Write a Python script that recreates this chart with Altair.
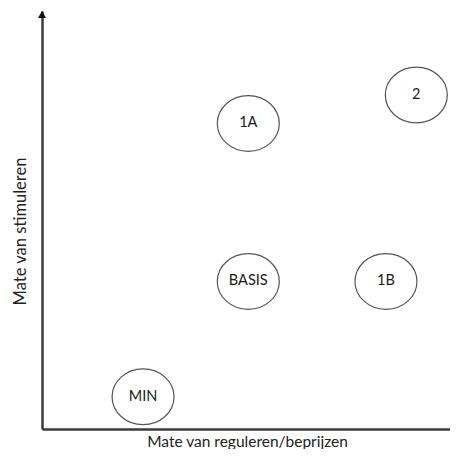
import altair as alt
import pandas as pd

# Options (ellipses) placed on the two dimensions, 0-100 along each axis
labels = ["MIN", "BASIS", "1A", "1B", "2"]
reguleren = [24.3, 49.6, 49.6, 82.7, 90.0]
stimuleren = [7.7, 35.3, 73.1, 35.3, 79.9]

x_title = "Mate van reguleren/beprijzen"
y_title = "Mate van stimuleren"

df = pd.DataFrame({"label": labels, "reg": reguleren, "stim": stimuleren})
arrow_df = pd.DataFrame({"reg": [0], "stim": [100]})

FONT = "Lato"
# plot area reaches to 98 on the x scale (the axis runs to the page edge)
xs = alt.Scale(domain=[0, 98.1], nice=False, zero=False)
ys = alt.Scale(domain=[0, 100], nice=False, zero=False)

x_axis = alt.Axis(
    title=x_title, domainWidth=2.5, domainColor="#3b3b3b", ticks=False,
    labels=False, grid=False, titleFont=FONT, titleFontSize=15.5,
    titleFontWeight="normal", titleColor="#222222", titlePadding=5, titleX=205,
)
y_axis = alt.Axis(
    title=y_title, domainWidth=2.5, domainColor="#3b3b3b", ticks=False,
    labels=False, grid=False, titleFont=FONT, titleFontSize=16.5,
    titleFontWeight="normal", titleColor="#222222", titlePadding=14, titleY=220,
)

ellipse_path = "M -1 0 A 1 0.9 0 1 1 1 0 A 1 0.9 0 1 1 -1 0 Z"
arrow_path = "M 0 0 L 1 1.75 L -1 1.75 Z"

base = alt.Chart(df).encode(
    x=alt.X("reg:Q", scale=xs, axis=x_axis),
    y=alt.Y("stim:Q", scale=ys, axis=y_axis),
)

ellipses = base.mark_point(
    shape=ellipse_path, size=3844, filled=False, stroke="#555555",
    strokeWidth=1.2, opacity=1,
)
texts = base.mark_text(font=FONT, fontSize=14.5, color="#1a1a1a").encode(text="label:N")

arrow = alt.Chart(arrow_df).mark_point(
    shape=arrow_path, size=64, filled=True, color="#111111", opacity=1,
).encode(
    x=alt.X("reg:Q", scale=xs, axis=x_axis),
    y=alt.Y("stim:Q", scale=ys, axis=y_axis),
)

chart = alt.layer(ellipses, texts, arrow).properties(
    width=408, height=418,
    background="white",
    autosize=alt.AutoSizeParams(type="none"),
    padding={"left": 34, "top": 3, "right": 0, "bottom": 20},
).configure_view(stroke="transparent", strokeWidth=0).configure_axis(
    grid=False, ticks=False, labels=False
)

chart.save("out.html", embed_options={"renderer": "svg", "actions": False})
